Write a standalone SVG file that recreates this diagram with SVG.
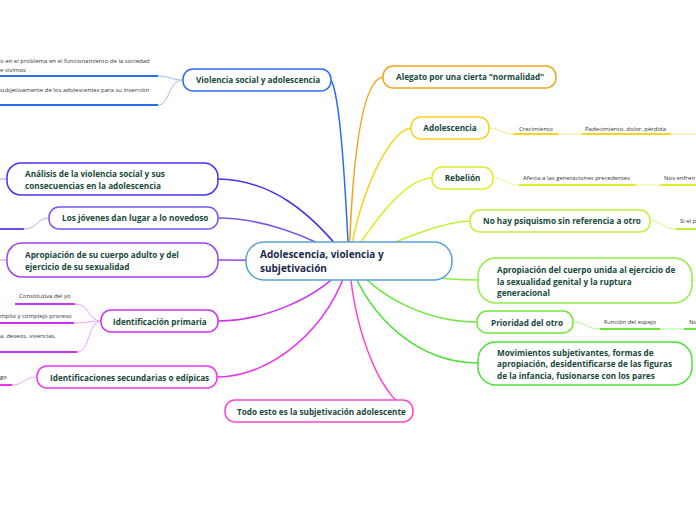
<svg xmlns="http://www.w3.org/2000/svg" width="696" height="520" viewBox="0 0 696 520">
<style>
.n{fill:#fff;stroke-width:1.5}
.t{font-family:"Open Sans","Noto Sans",sans-serif;font-weight:700;font-size:8.2px;fill:#174a3a}
.c{font-family:"Open Sans","Noto Sans",sans-serif;font-weight:700;font-size:10px;fill:#1b2a4a}
.s{font-family:"Open Sans","Noto Sans",sans-serif;font-size:6px;fill:#333}
.m{fill:none;stroke-width:1.5}
.l{fill:none;stroke-width:1}
.u{fill:none;stroke-width:2}
</style>
<rect width="696" height="520" fill="#fff"/>
<g id="connectors">
<path class="m" stroke="#2b6cf6" d="M349,261 C345,180 340,95 331,80"/>
<path class="m" stroke="#4433ee" d="M349,261 C310,210 270,180 218,179"/>
<path class="m" stroke="#7a55f0" d="M349,261 C310,235 260,218 218,218"/>
<path class="m" stroke="#9a44f0" d="M349,261 L218,260"/>
<path class="m" stroke="#cc33f0" d="M349,261 C320,300 260,321 218,321"/>
<path class="m" stroke="#ee33ee" d="M349,261 C330,330 270,377 217,377"/>
<path class="m" stroke="#ff44cc" d="M349,261 C355,340 385,405 413,411"/>
<path class="m" stroke="#f7a21b" d="M349,261 C352,170 360,80 383,77"/>
<path class="m" stroke="#f8d21c" d="M349,261 C360,190 390,130 411,128"/>
<path class="m" stroke="#dcee2a" d="M349,261 C380,210 410,178 432,178"/>
<path class="m" stroke="#bdf234" d="M349,261 C400,240 440,222 470,221"/>
<path class="m" stroke="#90ee44" d="M349,261 C400,275 440,280 478,280"/>
<path class="m" stroke="#6ee63c" d="M349,261 C380,300 430,322 477,322"/>
<path class="m" stroke="#4ee038" d="M349,261 C370,320 420,363 478,363"/>
<!-- left children -->
<path class="l" stroke="#9bbcf8" d="M183,80 C170,80 170,76 158,76"/>
<path class="u" stroke="#2b6cf6" d="M0,76 H158"/>
<path class="l" stroke="#9bbcf8" d="M183,80 C168,80 170,105 158,105"/>
<path class="u" stroke="#2b6cf6" d="M0,105 H158"/>
<path class="l" stroke="#a99cf5" d="M0,179 H7"/>
<path class="u" stroke="#6a4cf0" d="M0,229 H24"/>
<path class="l" stroke="#b8a8f8" d="M24,229 C38,229 36,218 49,218"/>
<path class="l" stroke="#c890f5" d="M0,260 H7"/>
<path class="u" stroke="#cc33f0" d="M15,304 H75"/>
<path class="l" stroke="#e4a4f8" d="M75,304 C90,304 88,321 101,321"/>
<path class="u" stroke="#cc33f0" d="M0,323 H74"/>
<path class="l" stroke="#e4a4f8" d="M74,323 C88,323 88,321 101,321"/>
<path class="u" stroke="#cc33f0" d="M0,352 H77"/>
<path class="l" stroke="#e4a4f8" d="M77,352 C90,352 88,321 101,321"/>
<path class="u" stroke="#ee33ee" d="M0,385 H12"/>
<path class="l" stroke="#f6a4f0" d="M12,385 C24,385 24,377 37,377"/>
<!-- right children -->
<path class="l" stroke="#fbe68a" d="M489,128 C502,128 500,134 514,134"/>
<path class="u" stroke="#f8d21c" d="M514,134 H558"/>
<path class="l" stroke="#fbe68a" d="M558,134 H582"/>
<path class="u" stroke="#f8d21c" d="M582,134 H671"/>
<path class="l" stroke="#fbe68a" d="M671,134 H696"/>
<path class="l" stroke="#eaf58a" d="M493,178 C506,178 505,185 519,185"/>
<path class="u" stroke="#dcee2a" d="M519,185 H636"/>
<path class="l" stroke="#eaf58a" d="M636,185 H660"/>
<path class="u" stroke="#dcee2a" d="M660,185 H696"/>
<path class="l" stroke="#d6f78a" d="M650,221 C663,221 662,229 676,229"/>
<path class="u" stroke="#bdf234" d="M676,229 H696"/>
<path class="l" stroke="#bff59a" d="M692,280 H696"/>
<path class="l" stroke="#aef29a" d="M573,322 C586,322 586,329 600,329"/>
<path class="u" stroke="#6ee63c" d="M600,329 H660"/>
<path class="l" stroke="#aef29a" d="M660,329 H684"/>
<path class="u" stroke="#6ee63c" d="M684,329 H696"/>
</g>
<g id="center">
<rect class="n" x="246" y="242" width="206" height="38" rx="18" stroke="#5aa0d8"/>
<text class="c" x="260" y="258">Adolescencia, violencia y</text>
<text class="c" x="260" y="272">subjetivación</text>
</g>
<g id="violencia-social">
<rect class="n" x="183" y="69" width="148" height="22" rx="10" stroke="#2b6cf6"/>
<text class="t" x="196" y="83">Violencia social y adolescencia</text>
</g>
<g id="violencia-hijos">
<text class="s" x="0" y="63">o en el problema en el funcionamiento de la sociedad</text>
<text class="s" x="0" y="72">e vivimos</text>
<text class="s" x="0" y="92">subjetivamente de los adolescentes para su inserción</text>
</g>
<g id="analisis">
<rect class="n" x="7" y="163" width="211" height="32" rx="14" stroke="#4433ee"/>
<text class="t" x="25" y="177">Análisis de la violencia social y sus</text>
<text class="t" x="25" y="188.5">consecuencias en la adolescencia</text>
</g>
<g id="jovenes">
<rect class="n" x="49" y="207" width="169" height="22" rx="10" stroke="#7a55f0"/>
<text class="t" x="62" y="221">Los jóvenes dan lugar a lo novedoso</text>
</g>
<g id="apropiacion-adulto">
<rect class="n" x="7" y="243" width="211" height="34" rx="15" stroke="#9a44f0"/>
<text class="t" x="25" y="258">Apropiación de su cuerpo adulto y del</text>
<text class="t" x="25" y="269.5">ejercicio de su sexualidad</text>
</g>
<g id="identificacion-primaria">
<rect class="n" x="101" y="310" width="117" height="22" rx="10" stroke="#cc33f0"/>
<text class="t" x="113" y="325">Identificación primaria</text>
<text class="s" x="19" y="298">Constitutiva del yo</text>
<text class="s" x="0" y="318">mplio y complejo proceso</text>
<text class="s" x="0" y="338">a, deseos, vivencias,</text>
</g>
<g id="identificaciones-secundarias">
<rect class="n" x="37" y="366" width="180" height="22" rx="10" stroke="#ee33ee"/>
<text class="t" x="50" y="381">Identificaciones secundarias o edípicas</text>
<text class="s" x="0" y="379">go</text>
</g>
<g id="todo-esto">
<rect class="n" x="225" y="400" width="188" height="22" rx="10" stroke="#ff44cc"/>
<text class="t" x="237" y="414.5">Todo esto es la subjetivación adolescente</text>
</g>
<g id="alegato">
<rect class="n" x="383" y="66" width="173" height="22" rx="10" stroke="#f7a21b"/>
<text class="t" x="396" y="80">Alegato por una cierta “normalidad”</text>
</g>
<g id="adolescencia">
<rect class="n" x="411" y="117" width="78" height="22" rx="10" stroke="#f8d21c"/>
<text class="t" x="450" y="131" text-anchor="middle">Adolescencia</text>
<text class="s" x="519" y="130.5">Crecimiento</text>
<text class="s" x="585" y="130.5">Padecimiento, dolor, pérdida</text>
</g>
<g id="rebelion">
<rect class="n" x="432" y="167" width="61" height="22" rx="10" stroke="#dcee2a"/>
<text class="t" x="462.5" y="181" text-anchor="middle">Rebelión</text>
<text class="s" x="523" y="179.5">Afecta a las generaciones precedentes</text>
<text class="s" x="664" y="179.5">Nos enfren</text>
</g>
<g id="no-hay-psiquismo">
<rect class="n" x="470" y="210" width="180" height="22" rx="10" stroke="#bdf234"/>
<text class="t" x="483" y="224">No hay psiquismo sin referencia a otro</text>
<text class="s" x="680" y="223">Si el p</text>
</g>
<g id="apropiacion-unida">
<rect class="n" x="478" y="258" width="214" height="45" rx="18" stroke="#90ee44"/>
<text class="t" x="497" y="273">Apropiación del cuerpo unida al ejercicio de</text>
<text class="t" x="497" y="284.5">la sexualidad genital y la ruptura</text>
<text class="t" x="497" y="296">generacional</text>
</g>
<g id="prioridad">
<rect class="n" x="477" y="311" width="96" height="22" rx="10" stroke="#6ee63c"/>
<text class="t" x="491" y="325.5">Prioridad del otro</text>
<text class="s" x="604" y="323.5">Función del espejo</text>
<text class="s" x="689" y="323.5">No</text>
</g>
<g id="movimientos">
<rect class="n" x="478" y="342" width="214" height="43" rx="18" stroke="#4ee038"/>
<text class="t" x="497" y="355.5">Movimientos subjetivantes, formas de</text>
<text class="t" x="497" y="367">apropiación, desidentificarse de las figuras</text>
<text class="t" x="497" y="378.5">de la infancia, fusionarse con los pares</text>
</g>
</svg>
